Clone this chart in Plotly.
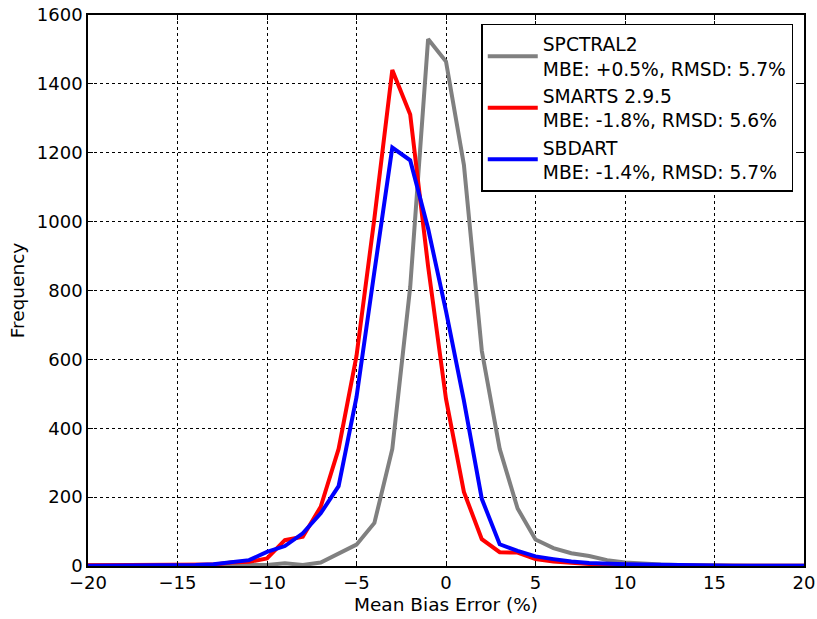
import plotly.graph_objects as go

x_vals = list(range(-20, 21))

spctral2 = [2, 1, 1, 1, 1, 1, 1, 2, 2, 3, 3, 8, 3, 10, 35, 62, 125, 340, 810, 1530,
            1465, 1165, 625, 340, 167, 77, 52, 37, 29, 17, 10, 6, 4, 3, 2, 2, 1, 1, 1, 1, 1]
smarts = [2, 2, 2, 2, 2, 2, 3, 4, 10, 12, 22, 75, 85, 172, 340, 610, 1010, 1440, 1311, 870,
          485, 215, 78, 40, 39, 20, 13, 9, 6, 4, 3, 2, 2, 1, 1, 1, 1, 1, 1, 1, 1]
sbdart = [1, 1, 2, 2, 2, 2, 3, 5, 12, 17, 41, 58, 95, 153, 232, 490, 855, 1215, 1178, 980,
          740, 480, 195, 63, 44, 28, 20, 13, 9, 6, 5, 4, 3, 2, 2, 1, 1, 1, 1, 1, 1]

names = ["SPCTRAL2<br>MBE: +0.5%, RMSD: 5.7%",
         "SMARTS 2.9.5<br>MBE: -1.8%, RMSD: 5.6%",
         "SBDART<br>MBE: -1.4%, RMSD: 5.7%"]
colors = ["#808080", "#ff0000", "#0000ff"]
series = [spctral2, smarts, sbdart]

x_ticks = list(range(-20, 21, 5))
y_ticks = list(range(0, 1601, 200))

fig = go.Figure()
for name, col, ys in zip(names, colors, series):
    fig.add_trace(go.Scatter(x=x_vals, y=ys, mode="lines", name=name,
                             line=dict(color=col, width=4)))

font = dict(family="DejaVu Sans", size=18, color="black")
axis_common = dict(showline=True, linecolor="black", linewidth=1.5, mirror="ticks",
                   ticks="inside", ticklen=5, tickcolor="black", tickwidth=1,
                   showgrid=True, gridcolor="black", griddash="dot", gridwidth=1,
                   zeroline=False, tickfont=font, automargin=False)

fig.update_layout(
    width=817, height=619,
    margin=dict(l=88, r=13, t=15, b=53, autoexpand=False),
    paper_bgcolor="white", plot_bgcolor="white",
    font=font,
    showlegend=True,
    legend=dict(x=0.985, y=0.984, xanchor="right", yanchor="top",
                bgcolor="white", bordercolor="black", borderwidth=1.5,
                font=dict(family="DejaVu Sans", size=18.7, color="black"),
                itemwidth=50, tracegroupgap=0),
    xaxis=dict(range=[-20, 20], tickvals=x_ticks,
               title=dict(text="Mean Bias Error (%)", font=dict(family="DejaVu Sans", size=18.5), standoff=6),
               **axis_common),
    yaxis=dict(range=[0, 1600], tickvals=y_ticks,
               title=dict(text="Frequency", font=dict(family="DejaVu Sans", size=18.5), standoff=7),
               **axis_common),
)

fig.write_html("out.html")
